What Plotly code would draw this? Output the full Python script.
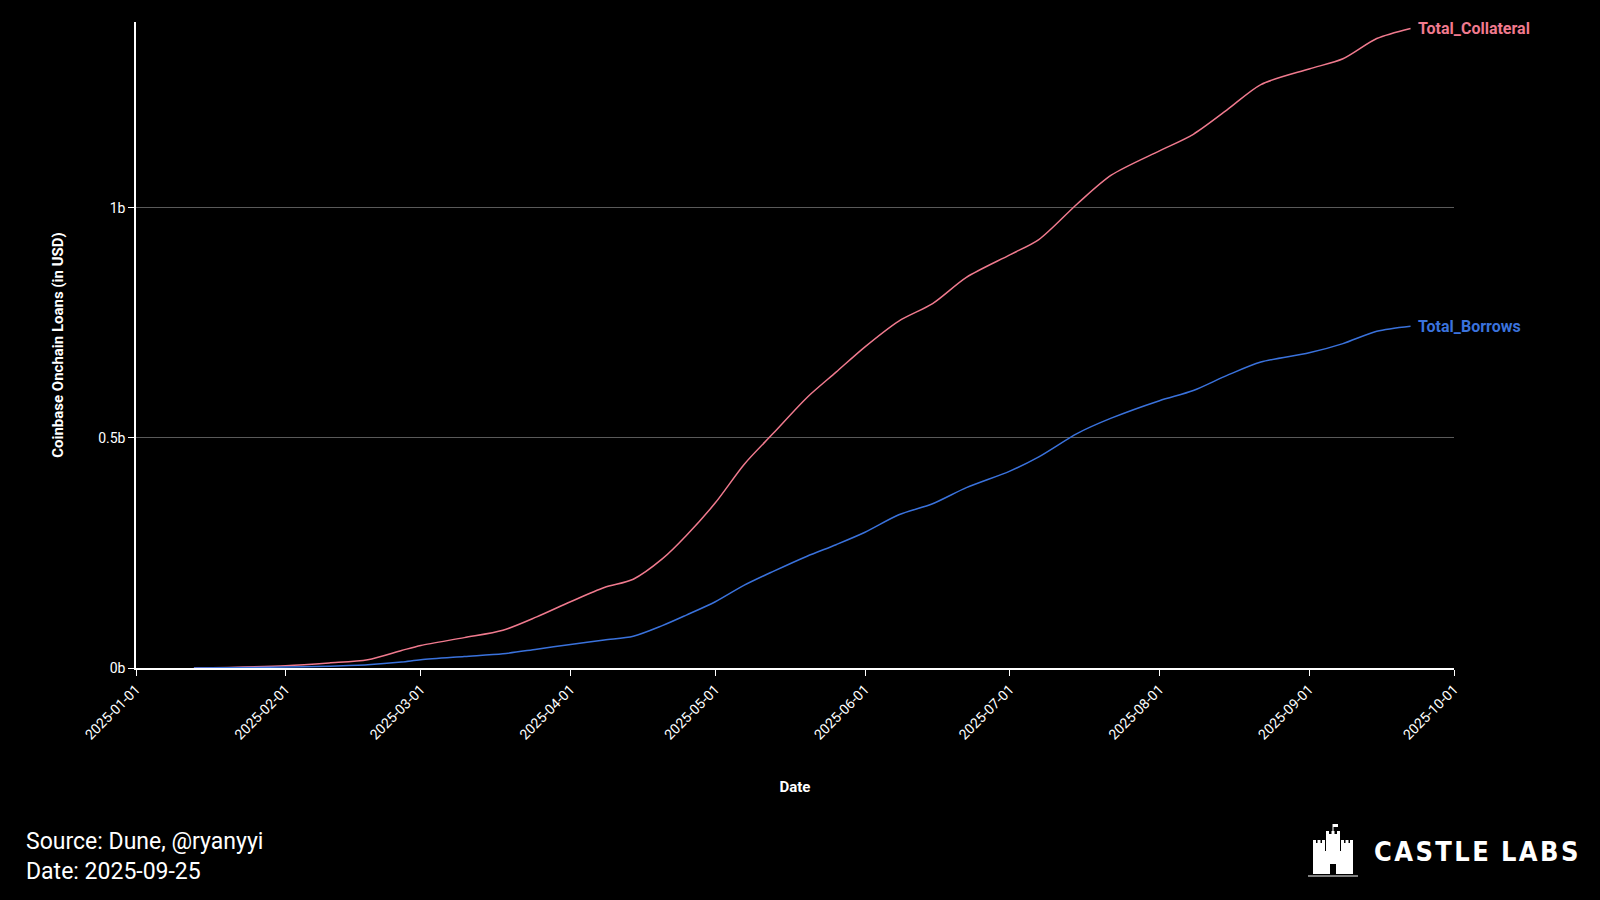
import plotly.graph_objects as go

dates = ["2025-01-13", "2025-02-01", "2025-02-10", "2025-02-18", "2025-02-25", "2025-03-01",
         "2025-03-10", "2025-03-18", "2025-03-25", "2025-04-01", "2025-04-08", "2025-04-14",
         "2025-04-20", "2025-04-25", "2025-05-01", "2025-05-07", "2025-05-13", "2025-05-20",
         "2025-05-26", "2025-06-01", "2025-06-08", "2025-06-15", "2025-06-22", "2025-07-01",
         "2025-07-07", "2025-07-15", "2025-07-22", "2025-08-01", "2025-08-08", "2025-08-15",
         "2025-08-22", "2025-09-01", "2025-09-08", "2025-09-15", "2025-09-22"]

total_collateral = [0.000, 0.005, 0.011, 0.018, 0.038, 0.049, 0.066, 0.082, 0.111, 0.144,
                    0.175, 0.193, 0.237, 0.288, 0.359, 0.443, 0.510, 0.588, 0.643, 0.698,
                    0.754, 0.792, 0.849, 0.898, 0.931, 1.009, 1.071, 1.124, 1.160, 1.213,
                    1.268, 1.302, 1.324, 1.368, 1.390]

total_borrows = [0.000, 0.002, 0.004, 0.007, 0.013, 0.018, 0.025, 0.031, 0.041, 0.051,
                 0.061, 0.069, 0.092, 0.115, 0.144, 0.180, 0.210, 0.243, 0.268, 0.295,
                 0.333, 0.357, 0.392, 0.428, 0.459, 0.510, 0.543, 0.581, 0.603, 0.636,
                 0.665, 0.685, 0.705, 0.732, 0.743]

x_tick_vals = ["2025-01-01", "2025-02-01", "2025-03-01", "2025-04-01", "2025-05-01",
               "2025-06-01", "2025-07-01", "2025-08-01", "2025-09-01", "2025-10-01"]
y_tick_vals = [0, 0.5e9, 1e9]
y_tick_text = ["0b", "0.5b", "1b"]

COL_PINK = "#f07a8e"
COL_BLUE = "#3a72dc"
FONT = "Roboto, Inter, DejaVu Sans"

coll = [v * 1e9 for v in total_collateral]
borr = [v * 1e9 for v in total_borrows]

fig = go.Figure()
fig.add_trace(go.Scatter(x=dates, y=coll, mode="lines", name="Total_Collateral",
                         line=dict(color=COL_PINK, width=1.5, shape="spline", smoothing=0.8)))
fig.add_trace(go.Scatter(x=dates, y=borr, mode="lines", name="Total_Borrows",
                         line=dict(color=COL_BLUE, width=1.5, shape="spline", smoothing=0.8)))

for name, ys, col in [("Total_Collateral", coll, COL_PINK), ("Total_Borrows", borr, COL_BLUE)]:
    fig.add_annotation(x=dates[-1], y=ys[-1], xref="x", yref="y", text="<b>%s</b>" % name,
                       showarrow=False, xanchor="left", yanchor="middle", xshift=5,
                       font=dict(family=FONT, size=16, color=col))

fig.update_layout(
    width=1600, height=900,
    paper_bgcolor="black", plot_bgcolor="black",
    margin=dict(l=136, r=146, t=22, b=232),
    showlegend=False,
    font=dict(family=FONT, color="white", size=13),
    xaxis=dict(range=["2025-01-01", "2025-10-01"], tickvals=x_tick_vals, tickformat="%Y-%m-%d",
               tickangle=-45, showgrid=False, showline=True, linecolor="white", linewidth=1.5,
               ticks="outside", ticklen=6, tickcolor="white", zeroline=False,
               tickfont=dict(size=14, color="white"),
               title=dict(text="<b>Date</b>", font=dict(size=15, color="white"), standoff=40)),
    yaxis=dict(range=[0, 1.404e9], tickvals=y_tick_vals, ticktext=y_tick_text,
               showgrid=True, gridcolor="#5a5a5a", gridwidth=1, showline=True,
               linecolor="white", linewidth=1.5, ticks="outside", ticklen=6, tickcolor="white",
               zeroline=False, tickfont=dict(size=14, color="white"),
               title=dict(text="<b>Coinbase Onchain Loans (in USD)</b>",
                          font=dict(size=15, color="white"), standoff=31)),
)

def px(xp):
    return (xp - 136) / 1318
def py(yp):
    return (668 - yp) / 646

fig.add_annotation(xref="paper", yref="paper", x=px(24), y=py(856),
                   xanchor="left", yanchor="middle", showarrow=False, align="left",
                   text="Source: Dune, @ryanyyi<br>Date: 2025-09-25",
                   font=dict(family=FONT, size=23, color="white"))

# Castle Labs wordmark
hs = "\u200a"
word = hs.join("CASTLE") + "\u2002" + hs.join("LABS")
fig.add_annotation(xref="paper", yref="paper", x=px(1372), y=py(851),
                   xanchor="left", yanchor="middle", showarrow=False,
                   text="<b>%s</b>" % word,
                   font=dict(family="Liberation Sans Narrow, DejaVu Sans Condensed", size=27, color="white"))

# simple castle icon (decorative shapes)
rects = [
    (1313, 843, 1325, 874),  # left tower
    (1341, 843, 1353, 874),  # right tower
    (1323, 851, 1343, 874),  # wall
    (1326, 834, 1340, 874),  # centre keep
]
for x0, y0, x1, y1 in rects:
    fig.add_shape(type="rect", xref="paper", yref="paper", x0=px(x0), x1=px(x1),
                  y0=py(y1), y1=py(y0), fillcolor="white", line=dict(width=0))
for cx in [1313, 1317.5, 1322, 1341, 1345.5, 1350, 1326, 1331.5, 1337]:
    top = 840 if cx < 1326 or cx > 1340 else 831
    fig.add_shape(type="rect", xref="paper", yref="paper", x0=px(cx), x1=px(cx + 3),
                  y0=py(top + 4), y1=py(top), fillcolor="white", line=dict(width=0))
fig.add_shape(type="rect", xref="paper", yref="paper", x0=px(1330), x1=px(1336),
              y0=py(874), y1=py(864), fillcolor="black", line=dict(width=0))
fig.add_shape(type="line", xref="paper", yref="paper", x0=px(1333), x1=px(1333),
              y0=py(831), y1=py(824), line=dict(color="white", width=1))
fig.add_shape(type="rect", xref="paper", yref="paper", x0=px(1333), x1=px(1338),
              y0=py(827), y1=py(824), fillcolor="white", line=dict(width=0))
fig.add_shape(type="line", xref="paper", yref="paper", x0=px(1308), x1=px(1358),
              y0=py(876), y1=py(876), line=dict(color="white", width=1))

fig.write_html("out.html", config={"displayModeBar": False},
               post_script="document.body.style.margin='0';document.body.style.background='black';document.body.style.overflow='hidden';")
